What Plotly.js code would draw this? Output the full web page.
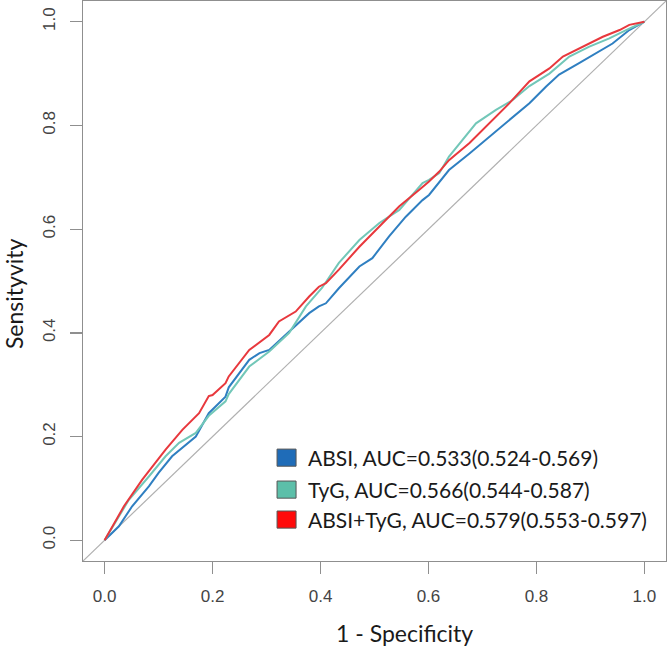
<!DOCTYPE html>
<html>
<head>
<meta charset="utf-8">
<script src="https://cdn.plot.ly/plotly-3.0.1.min.js"></script>
<style>html,body{margin:0;padding:0;background:#fff;}#chart{width:669px;height:651px;}</style>
</head>
<body>
<div id="chart"></div>
<script>
// ---- Data ----
const seriesNames = ["ABSI", "TyG", "ABSI+TyG"];
const aucLabels = ["AUC=0.533(0.524-0.569)", "AUC=0.566(0.544-0.587)", "AUC=0.579(0.553-0.597)"];

const fprABSI = [0, 0.0265, 0.051, 0.082, 0.1, 0.125, 0.169, 0.193, 0.224, 0.23, 0.268, 0.287, 0.305, 0.342, 0.379, 0.397, 0.41, 0.434, 0.472, 0.496, 0.527, 0.558, 0.589, 0.601, 0.632, 0.638, 0.676, 0.713, 0.75, 0.787, 0.818, 0.842, 0.879, 0.91, 0.941, 0.972, 1];
const tprABSI = [0, 0.027, 0.0655, 0.104, 0.13, 0.162, 0.2, 0.245, 0.277, 0.295, 0.348, 0.361, 0.367, 0.403, 0.438, 0.451, 0.457, 0.486, 0.528, 0.544, 0.586, 0.624, 0.656, 0.666, 0.706, 0.714, 0.746, 0.778, 0.811, 0.843, 0.875, 0.898, 0.92, 0.939, 0.958, 0.984, 1];

const fprTyG = [0, 0.0358, 0.045, 0.082, 0.113, 0.138, 0.169, 0.193, 0.224, 0.23, 0.268, 0.305, 0.342, 0.373, 0.403, 0.434, 0.472, 0.509, 0.546, 0.589, 0.601, 0.62, 0.638, 0.688, 0.725, 0.756, 0.787, 0.824, 0.861, 0.898, 0.935, 0.966, 1];
const tprTyG = [0, 0.062, 0.078, 0.123, 0.162, 0.188, 0.207, 0.24, 0.268, 0.282, 0.335, 0.364, 0.4, 0.451, 0.487, 0.535, 0.579, 0.612, 0.637, 0.689, 0.695, 0.708, 0.74, 0.804, 0.83, 0.849, 0.876, 0.9, 0.933, 0.952, 0.968, 0.984, 1];

const fprBoth = [0, 0.0358, 0.0698, 0.113, 0.144, 0.175, 0.193, 0.2, 0.224, 0.23, 0.268, 0.305, 0.323, 0.354, 0.379, 0.397, 0.41, 0.434, 0.472, 0.509, 0.546, 0.583, 0.601, 0.62, 0.638, 0.676, 0.713, 0.75, 0.787, 0.824, 0.849, 0.886, 0.923, 0.954, 0.972, 1];
const tprBoth = [0, 0.0655, 0.117, 0.175, 0.213, 0.245, 0.278, 0.28, 0.303, 0.316, 0.367, 0.396, 0.422, 0.441, 0.47, 0.489, 0.496, 0.522, 0.566, 0.605, 0.644, 0.676, 0.692, 0.711, 0.733, 0.766, 0.804, 0.843, 0.885, 0.91, 0.933, 0.952, 0.971, 0.984, 0.994, 1];

const tickVals = [0, 0.2, 0.4, 0.6, 0.8, 1.0];
const tickText = ["0.0", "0.2", "0.4", "0.6", "0.8", "1.0"];
const diagRange = [-0.04, 1.04];

// ---- Styles ----
const lineColors = ["#2f7fc1", "#72c7b8", "#e8383d"];
const boxColors = ["#1f6cb8", "#5cbfa9", "#ff0a0a"];
const axisColor = "#8f8f8f";

const traces = [
  {x: diagRange, y: diagRange, mode: "lines", line: {color: "#b0b0b0", width: 1.2}, hoverinfo: "skip", showlegend: false},
  {x: fprABSI, y: tprABSI, name: seriesNames[0], mode: "lines", line: {color: lineColors[0], width: 2}, showlegend: false},
  {x: fprTyG, y: tprTyG, name: seriesNames[1], mode: "lines", line: {color: lineColors[1], width: 2}, showlegend: false},
  {x: fprBoth, y: tprBoth, name: seriesNames[2], mode: "lines", line: {color: lineColors[2], width: 2}, showlegend: false}
];

// legend built with shapes + annotations (R-style filled squares)
const legY = [0.1593, 0.0977, 0.0399];
const legHalf = 0.0165;
const shapes = legY.map((y, i) => ({
  type: "rect", xref: "x", yref: "y",
  x0: 0.3195, x1: 0.3547, y0: y - legHalf, y1: y + legHalf,
  fillcolor: boxColors[i], line: {color: "#555", width: 1}
}));
const annotations = legY.map((y, i) => ({
  xref: "x", yref: "y", x: 0.373, y: y, xanchor: "left", yanchor: "middle",
  text: seriesNames[i] + ", " + aucLabels[i], showarrow: false,
  font: {family: "Lato, sans-serif", size: 21, color: "#1a1a1a"}
}));
annotations.push({
  xref: "paper", yref: "paper", x: 0.552, y: -0.128, xanchor: "center", yanchor: "middle",
  text: "1 - Specificity", showarrow: false,
  font: {family: "Lato, sans-serif", size: 23, color: "#1a1a1a"}
});
annotations.push({
  xref: "paper", yref: "paper", x: -0.118, y: 0.477, xanchor: "center", yanchor: "middle",
  text: "Sensityvity", textangle: -90, showarrow: false,
  font: {family: "Lato, sans-serif", size: 23, color: "#1a1a1a"}
});

const axisCommon = {
  range: [-0.04, 1.04], showgrid: false, zeroline: false,
  showline: true, mirror: true, linecolor: axisColor, linewidth: 1.3,
  ticks: "outside", ticklen: 12, tickwidth: 1.3, tickcolor: axisColor,
  tickvals: tickVals, ticktext: tickText,
  tickfont: {family: "Liberation Sans, Arial, sans-serif", size: 17, color: "#444"}
};

const layout = {
  width: 669, height: 651,
  margin: {l: 83, r: 3, t: 1, b: 90},
  paper_bgcolor: "#fff", plot_bgcolor: "#fff",
  xaxis: Object.assign({}, axisCommon, {ticklabelstandoff: 7}),
  yaxis: Object.assign({}, axisCommon, {tickangle: -90, ticklabelstandoff: 8}),
  shapes: shapes,
  annotations: annotations,
  showlegend: false
};

Plotly.newPlot("chart", traces, layout, {displayModeBar: false, staticPlot: true});
</script>
</body>
</html>
